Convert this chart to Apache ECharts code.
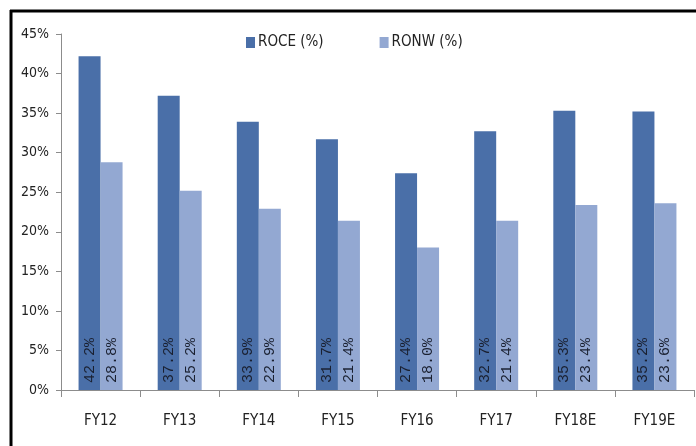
<!DOCTYPE html>
<html>
<head>
<meta charset="utf-8">
<script src="https://cdn.jsdelivr.net/npm/echarts@6/dist/echarts.min.js"></script>
<style>
  html, body { margin: 0; padding: 0; background: #fff; }
  #chart { width: 696px; height: 446px; }
</style>
</head>
<body>
<div id="chart"></div>
<script>
// data
var categories = ['FY12', 'FY13', 'FY14', 'FY15', 'FY16', 'FY17', 'FY18E', 'FY19E'];
var roce = [42.2, 37.2, 33.9, 31.7, 27.4, 32.7, 35.3, 35.2];
var ronw = [28.8, 25.2, 22.9, 21.4, 18.0, 21.4, 23.4, 23.6];

var chart = echarts.init(document.getElementById('chart'));

var font = '"DejaVu Sans Condensed", "Liberation Sans Narrow", sans-serif';

// value label inside the bar, rotated, from the bottom
var barLabel = {
  show: true,
  position: 'insideBottom',
  rotate: 90,
  align: 'left',
  verticalAlign: 'middle',
  distance: 7,
  color: '#1a2030',
  fontFamily: '"Liberation Mono", monospace',
  fontSize: 15,
  formatter: function (p) { return p.value.toFixed(1) + '%'; }
};

var option = {
  animation: false,
  backgroundColor: '#fff',
  legend: {
    top: 30,
    left: 241,
    itemGap: 56,
    itemWidth: 9,
    itemHeight: 11,
    icon: 'rect',
    textStyle: { fontSize: 15, color: '#222', fontFamily: font, padding: [0, 0, 0, -2] },
    data: ['ROCE (%)', 'RONW (%)']
  },
  grid: { left: 61, right: 2, top: 34, bottom: 56 },
  xAxis: {
    type: 'category',
    data: categories,
    axisLine: { lineStyle: { color: '#8c8c8c', width: 1 } },
    axisTick: { show: true, alignWithLabel: false, length: 7, lineStyle: { color: '#8c8c8c' } },
    axisLabel: { color: '#222', fontSize: 15, margin: 24, fontFamily: font }
  },
  yAxis: {
    type: 'value',
    min: 0,
    max: 45,
    interval: 5,
    axisLine: { show: true, lineStyle: { color: '#8c8c8c' } },
    axisTick: { show: true, inside: false, length: 5, lineStyle: { color: '#8c8c8c' } },
    splitLine: { show: false },
    axisLabel: { color: '#222', fontSize: 14, margin: 12, fontFamily: font, formatter: '{value}%' }
  },
  series: [
    {
      name: 'ROCE (%)',
      type: 'bar',
      data: roce,
      barWidth: 22,
      barGap: '0%',
      itemStyle: { color: '#4a6fa8' },
      label: barLabel
    },
    {
      name: 'RONW (%)',
      type: 'bar',
      data: ronw,
      barWidth: 22,
      itemStyle: { color: '#93a8d2' },
      label: barLabel
    }
  ],
  graphic: [
    { type: 'line', shape: { x1: 10, y1: 11, x2: 696, y2: 11 }, style: { stroke: '#000', lineWidth: 3 } },
    { type: 'line', shape: { x1: 11, y1: 10, x2: 11, y2: 446 }, style: { stroke: '#000', lineWidth: 3 } }
  ]
};

chart.setOption(option);
</script>
</body>
</html>
